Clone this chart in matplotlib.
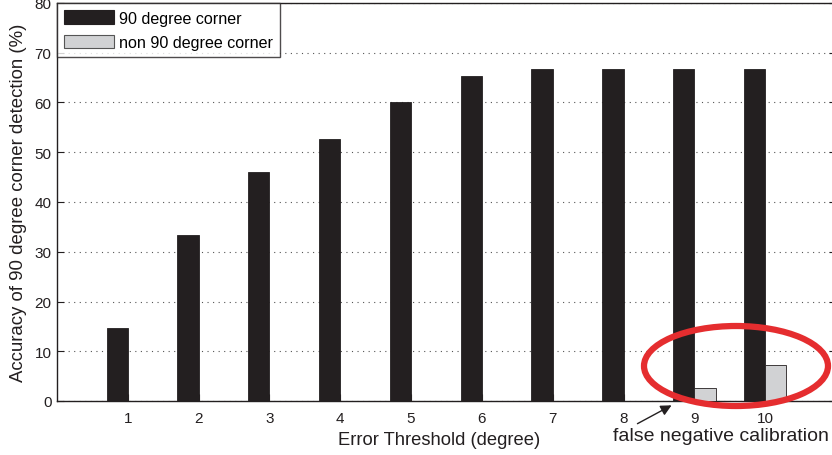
import numpy as np
import matplotlib.pyplot as plt
from matplotlib.patches import Ellipse, Patch

plt.rcParams['font.family'] = ['Liberation Sans', 'DejaVu Sans']

thresholds = [1, 2, 3, 4, 5, 6, 7, 8, 9, 10]
right_corner = [14.7, 33.3, 46.0, 52.7, 60.0, 65.3, 66.7, 66.7, 66.7, 66.7]
other_corner = [0, 0, 0, 0, 0, 0, 0, 0, 2.7, 7.3]

dark = '#231f20'
light = '#d1d2d4'

W, H = 832, 456
fig = plt.figure(figsize=(W / 100, H / 100), dpi=100)
ax = fig.add_axes([57 / W, (H - 402) / H, (836 - 57) / W, (402 - 4) / H])

x = np.array(thresholds)
bw = 0.3
ax.bar(x - bw / 2, right_corner, bw, color=dark, edgecolor=dark,
       linewidth=0.6, zorder=3)
bars = ax.bar(x + bw / 2, other_corner, bw, color=light, edgecolor=dark,
              linewidth=0.6, zorder=3)
# zero-height bars get no outline so nothing shows on the baseline
for b, v in zip(bars, other_corner):
    if v == 0:
        b.set_linewidth(0)

ax.set_xlim(0, 11)
ax.set_ylim(0, 80)
ax.set_xticks(thresholds)
ax.set_yticks(range(0, 81, 10))
ax.tick_params(direction='in', length=5, labelsize=11, colors=dark,
               right=True, top=False)
ax.tick_params(axis='x', pad=7)
ax.tick_params(axis='y', pad=4)
ax.yaxis.grid(True, linestyle=(0, (1, 4)), color='#555555', linewidth=0.8)
for s in ax.spines.values():
    s.set_color(dark)
    s.set_linewidth(1.0)

ax.set_xlabel('Error Threshold (degree)', fontsize=13.2, color=dark)
ax.xaxis.set_label_coords(0.49, -0.075)
ax.set_ylabel('Accuracy of 90 degree corner detection (%)', fontsize=13.4,
              color=dark, labelpad=5)

handles = [Patch(facecolor=dark, edgecolor=dark, linewidth=0.8, label='90 degree corner'),
           Patch(facecolor=light, edgecolor='#555555', linewidth=0.8,
                 label='non 90 degree corner')]
leg = ax.legend(handles=handles, loc='upper left', fontsize=11.6, frameon=True,
                fancybox=False, borderaxespad=0, handlelength=3.1, handleheight=0.95,
                borderpad=0.45, labelspacing=0.55, handletextpad=0.3)
leg.get_frame().set_edgecolor(dark)
leg.get_frame().set_linewidth(1.0)

# red ring around the non-90 bars at thresholds 9 and 10
ring = Ellipse((736 / W, 1 - 367 / H), 184 / W, 80 / H, transform=fig.transFigure,
               fill=False, edgecolor='#e52d2f', linewidth=4.5, zorder=10)
fig.patches.append(ring)

fig.text(613 / W, 1 - 437 / H, 'false negative calibration', fontsize=14,
         color=dark, va='center', ha='left')
ax.annotate('', xy=(674 / W, 1 - 405 / H), xytext=(635 / W, 1 - 426 / H),
            xycoords='figure fraction', textcoords='figure fraction',
            arrowprops=dict(arrowstyle='-|>', color=dark, lw=1.0,
                            mutation_scale=16))

fig.savefig('out.png', dpi=100)
